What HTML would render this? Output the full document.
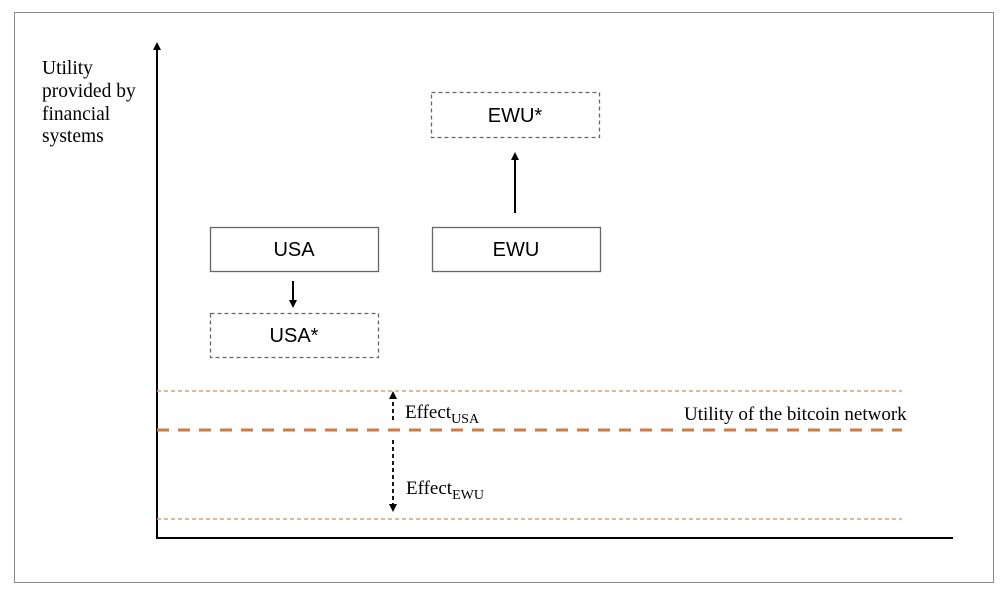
<!DOCTYPE html>
<html><head><style>body{margin:0;background:#fff}</style></head><body>
<svg width="1005" height="594" xmlns="http://www.w3.org/2000/svg" style="display:block">
<defs>
<marker id="a" markerWidth="8" markerHeight="8" refX="4" refY="4" orient="auto" markerUnits="userSpaceOnUse"><path d="M0,0 L8,4 L0,8 z" fill="#000"/></marker>
</defs>
<rect x="14.5" y="12.5" width="979" height="570" fill="none" stroke="#8a8a8a" stroke-width="1"/>
<g font-family="Liberation Serif, serif" font-size="19.5" fill="#000">
<text x="42" y="74">Utility</text>
<text x="42" y="97">provided by</text>
<text x="42" y="120">financial</text>
<text x="42" y="142">systems</text>
</g>
<line x1="157" y1="538" x2="157" y2="46" stroke="#000" stroke-width="2" marker-end="url(#a)"/>
<line x1="156" y1="538" x2="953" y2="538" stroke="#000" stroke-width="2"/>
<g font-family="Liberation Sans, sans-serif" font-size="20" text-anchor="middle" fill="#000">
<rect x="210.5" y="227.5" width="168" height="44" fill="none" stroke="#666" stroke-width="1.3"/>
<text x="294" y="256">USA</text>
<rect x="432.5" y="227.5" width="168" height="44" fill="none" stroke="#666" stroke-width="1.3"/>
<text x="516" y="256">EWU</text>
<rect x="210.5" y="313.5" width="168" height="44" fill="none" stroke="#666" stroke-width="1.3" stroke-dasharray="4,3"/>
<text x="294" y="342">USA*</text>
<rect x="431.5" y="92.5" width="168" height="45" fill="none" stroke="#666" stroke-width="1.3" stroke-dasharray="4,3"/>
<text x="515" y="122">EWU*</text>
</g>
<line x1="293" y1="281" x2="293" y2="304" stroke="#000" stroke-width="2" marker-end="url(#a)"/>
<line x1="515" y1="213" x2="515" y2="156" stroke="#000" stroke-width="2" marker-end="url(#a)"/>
<line x1="157" y1="391" x2="902" y2="391" stroke="#d9a077" stroke-width="1.5" stroke-dasharray="4,3"/>
<line x1="157" y1="519" x2="902" y2="519" stroke="#d9a077" stroke-width="1.5" stroke-dasharray="4,3"/>
<line x1="157" y1="430" x2="902" y2="430" stroke="#d07a3e" stroke-width="3" stroke-dasharray="12,9"/>
<line x1="393" y1="420" x2="393" y2="395" stroke="#000" stroke-width="1.8" stroke-dasharray="4,3" marker-end="url(#a)"/>
<line x1="393" y1="440" x2="393" y2="508" stroke="#000" stroke-width="1.8" stroke-dasharray="4,3" marker-end="url(#a)"/>
<g font-family="Liberation Serif, serif" fill="#000">
<text x="405" y="418" font-size="19">Effect<tspan font-size="14" dy="5">USA</tspan></text>
<text x="406" y="494" font-size="19">Effect<tspan font-size="14" dy="5">EWU</tspan></text>
<text x="684" y="420" font-size="19">Utility of the bitcoin network</text>
</g>
</svg>
</body></html>
